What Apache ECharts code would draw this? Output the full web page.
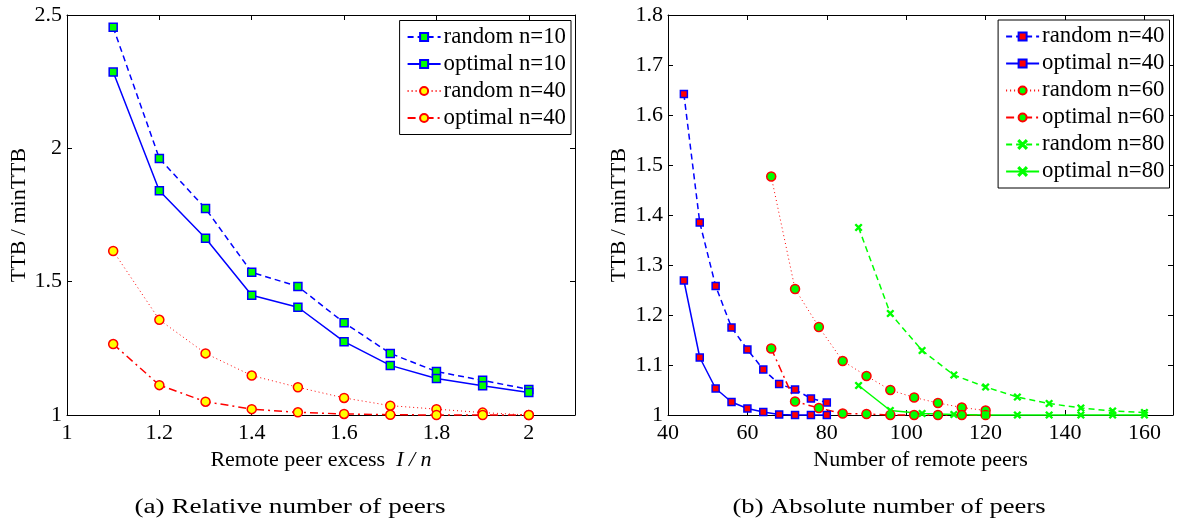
<!DOCTYPE html>
<html><head><meta charset="utf-8">
<script src="https://cdn.jsdelivr.net/npm/echarts@6/dist/echarts.min.js"></script>
<style>html,body{margin:0;padding:0;background:#fff}#c{width:1180px;height:523px}</style>
</head><body><div id="c"></div>
<script>
// ---------- data: panel (a) relative number of peers ----------
const relX = [1.1, 1.2, 1.3, 1.4, 1.5, 1.6, 1.7, 1.8, 1.9, 2.0];
const relRandomN10  = [2.454, 1.962, 1.774, 1.535, 1.482, 1.346, 1.231, 1.163, 1.130, 1.096];
const relOptimalN10 = [2.286, 1.841, 1.663, 1.449, 1.404, 1.275, 1.186, 1.137, 1.110, 1.084];
const relRandomN40  = [1.615, 1.357, 1.231, 1.148, 1.104, 1.064, 1.035, 1.022, 1.009, 1.000];
const relOptimalN40 = [1.266, 1.112, 1.050, 1.022, 1.010, 1.004, 1.001, 1.000, 1.000, 1.000];

// ---------- data: panel (b) absolute number of peers ----------
const absX40 = [44, 48, 52, 56, 60, 64, 68, 72, 76, 80];
const absRandomN40  = [1.642, 1.385, 1.258, 1.175, 1.131, 1.091, 1.062, 1.051, 1.033, 1.025];
const absOptimalN40 = [1.269, 1.115, 1.053, 1.026, 1.013, 1.006, 1.001, 1.000, 1.000, 1.000];
const absX60 = [66, 72, 78, 84, 90, 96, 102, 108, 114, 120];
const absRandomN60  = [1.477, 1.252, 1.176, 1.108, 1.078, 1.050, 1.035, 1.024, 1.015, 1.009];
const absOptimalN60 = [1.133, 1.027, 1.014, 1.003, 1.002, 1.000, 1.000, 1.000, 1.000, 1.000];
const absX80 = [88, 96, 104, 112, 120, 128, 136, 144, 152, 160];
const absRandomN80  = [1.375, 1.203, 1.129, 1.080, 1.056, 1.036, 1.023, 1.014, 1.008, 1.005];
const absOptimalN80 = [1.059, 1.009, 1.003, 1.001, 1.000, 1.000, 1.000, 1.000, 1.000, 1.000];

// ---------- labels ----------
const yTitle = 'TTB / minTTB';
const xTitleA = 'Remote peer excess  {i|I / n}';
const xTitleB = 'Number of remote peers';
const captionA = '(a) Relative number of peers';
const captionB = '(b) Absolute number of peers';

const FONT = 'Liberation Serif';
const FS = 22;
const xMark = 'path://M0,1L1,0L5,4L9,0L10,1L6,5L10,9L9,10L5,6L1,10L0,9L4,5Z';
const pairs = (xs, ys) => xs.map((x, i) => [x, ys[i]]);

function xAx(grid, min, max, interval, top, name) {
  return {
    gridIndex: grid, type: 'value', min, max, interval,
    position: top ? 'top' : 'bottom',
    axisLine: { onZero: false, lineStyle: { color: '#000', width: 1 } },
    axisTick: { inside: true, length: 5, lineStyle: { color: '#000' } },
    axisLabel: top ? { show: false } : { color: '#000', fontFamily: FONT, fontSize: FS, margin: 7, showMaxLabel: false },
    splitLine: { show: false },
    name: top ? '' : name, nameLocation: 'middle', nameGap: 27,
    nameTextStyle: { color: '#000', fontFamily: FONT, fontSize: FS, rich: { i: { fontStyle: 'italic', fontFamily: FONT, fontSize: FS, color: '#000' } } }
  };
}
function yAx(grid, min, max, interval, right, gap) {
  return {
    gridIndex: grid, type: 'value', min, max, interval,
    position: right ? 'right' : 'left',
    axisLine: { show: true, onZero: false, lineStyle: { color: '#000', width: 1 } },
    axisTick: { show: true, inside: true, length: 5, lineStyle: { color: '#000' } },
    axisLabel: right ? { show: false } : { color: '#000', fontFamily: FONT, fontSize: FS, margin: 5 },
    splitLine: { show: false },
    name: right ? '' : yTitle, nameLocation: 'middle', nameGap: gap,
    nameTextStyle: { color: '#000', fontFamily: FONT, fontSize: FS }
  };
}
function ser(name, xi, data, lineColor, lineType, lineWidth, symbol, size, fill, border) {
  return {
    name, type: 'line', xAxisIndex: xi, yAxisIndex: xi, data,
    symbol, symbolSize: size, clip: false, showAllSymbol: true,
    lineStyle: { color: lineColor, type: lineType, width: lineWidth },
    itemStyle: { color: fill, borderColor: border, borderWidth: 1.5 },
    emphasis: { disabled: true }, z: 3
  };
}

const BLUE = '#0000ff', RED = '#ff0000', GREEN = '#00ff00', YELLOW = '#ffff00';
const DASH = [6, 4], DOT = [1, 3], DASHDOT = [8, 4, 2, 4];

const series = [
  ser('A|random n=10', 0, pairs(relX, relRandomN10), BLUE, DASH, 1.5, 'rect', 8, GREEN, BLUE),
  ser('A|optimal n=10', 0, pairs(relX, relOptimalN10), BLUE, 'solid', 1.5, 'rect', 8, GREEN, BLUE),
  ser('A|random n=40', 0, pairs(relX, relRandomN40), RED, DOT, 1, 'circle', 9, YELLOW, RED),
  ser('A|optimal n=40', 0, pairs(relX, relOptimalN40), RED, DASHDOT, 1.5, 'circle', 9, YELLOW, RED),
  ser('B|random n=40', 2, pairs(absX40, absRandomN40), BLUE, DASH, 1.5, 'rect', 7, RED, BLUE),
  ser('B|optimal n=40', 2, pairs(absX40, absOptimalN40), BLUE, 'solid', 1.5, 'rect', 7, RED, BLUE),
  ser('B|random n=60', 2, pairs(absX60, absRandomN60), RED, DOT, 1, 'circle', 9, GREEN, RED),
  ser('B|optimal n=60', 2, pairs(absX60, absOptimalN60), RED, DASHDOT, 1.5, 'circle', 9, GREEN, RED),
  ser('B|random n=80', 2, pairs(absX80, absRandomN80), GREEN, DASH, 1.5, xMark, 6, GREEN, GREEN),
  ser('B|optimal n=80', 2, pairs(absX80, absOptimalN80), GREEN, 'solid', 1.5, xMark, 6, GREEN, GREEN)
];
series.forEach(s => { s.yAxisIndex = s.xAxisIndex; });

function legend(names, right, top) {
  return {
    data: names, orient: 'vertical', right, top, selectedMode: false,
    itemWidth: 33, itemHeight: 10, itemGap: 4,
    padding: [5, 5, 5, 7],
    backgroundColor: '#fff', borderColor: '#000', borderWidth: 1,
    formatter: n => n.slice(2),
    textStyle: { color: '#000', fontFamily: FONT, fontSize: 22.8, lineHeight: 22, padding: [0, 0, 0, -2] }
  };
}

function scaleFor(text, font, target) {
  const c = document.createElement('canvas').getContext('2d');
  c.font = font; return target / c.measureText(text).width;
}
const capFont = '20px "Liberation Serif"';

const chart = echarts.init(document.getElementById('c'), null, { renderer: 'canvas' });
chart.setOption({
  animation: false,
  backgroundColor: '#fff',
  grid: [
    { left: 67, top: 15, width: 508, height: 400 },
    { left: 668, top: 15, width: 505, height: 400 }
  ],
  xAxis: [
    xAx(0, 1, 2.1, 0.2, false, xTitleA),
    xAx(0, 1, 2.1, 0.2, true, ''),
    xAx(1, 40, 167.2, 20, false, xTitleB),
    xAx(1, 40, 167.2, 20, true, '')
  ],
  yAxis: [
    yAx(0, 1, 2.5, 0.5, false, 37),
    yAx(0, 1, 2.5, 0.5, true, 0),
    yAx(1, 1, 1.8, 0.1, false, 38),
    yAx(1, 1, 1.8, 0.1, true, 0)
  ],
  legend: [
    legend(series.slice(0, 4).map(s => s.name), 609, 20.5),
    legend(series.slice(4).map(s => s.name), 10.5, 20)
  ],
  series,
  graphic: [
    { type: 'text', x: 290, y: 508, scaleX: scaleFor(captionA, capFont, 311), style: { text: captionA, x: 0, y: 0, align: 'center', verticalAlign: 'middle', font: capFont, fill: '#000' } },
    { type: 'text', x: 889, y: 508, scaleX: scaleFor(captionB, capFont, 313), style: { text: captionB, x: 0, y: 0, align: 'center', verticalAlign: 'middle', font: capFont, fill: '#000' } }
  ]
});
</script>
</body></html>
